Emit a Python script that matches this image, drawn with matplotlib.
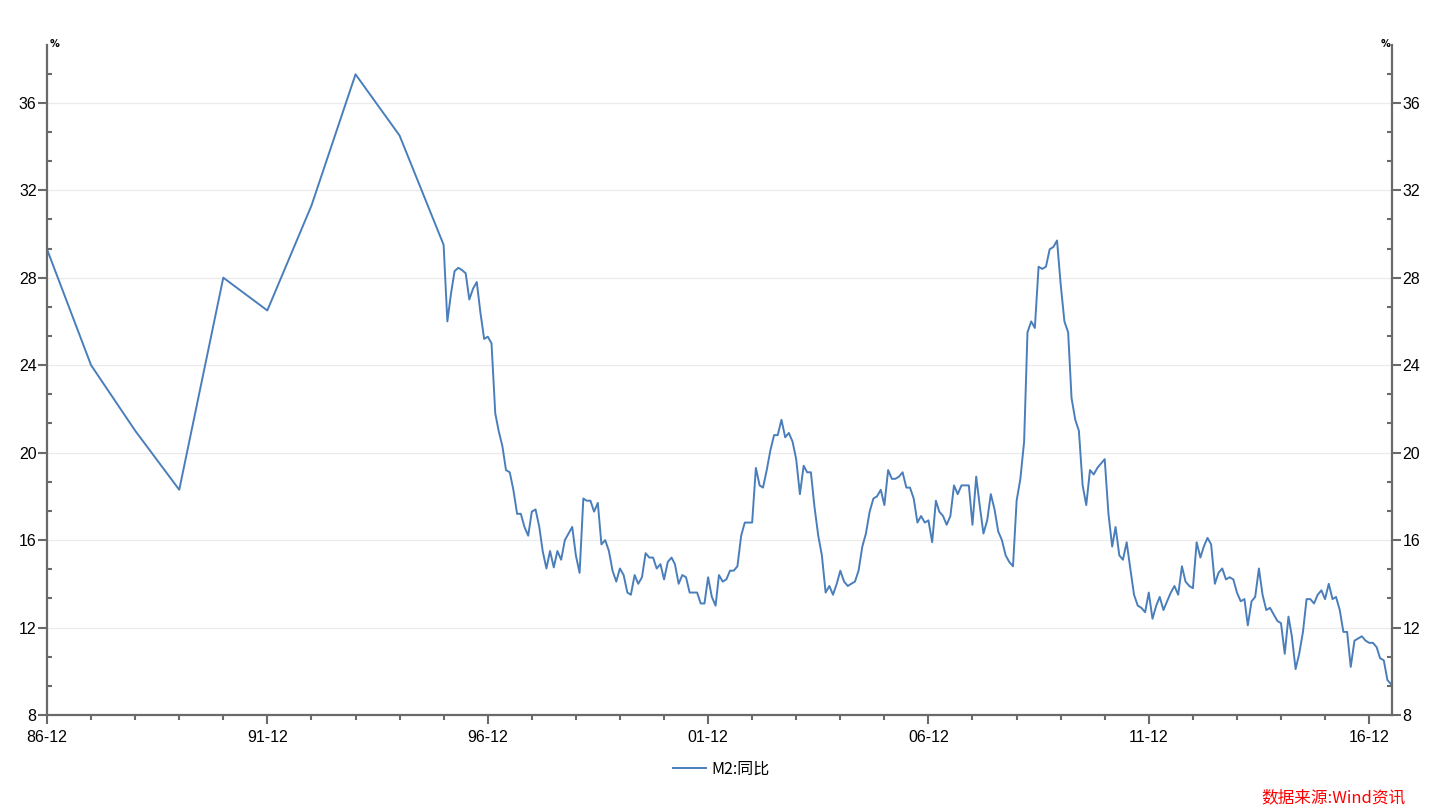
import datetime as dt
import matplotlib
matplotlib.use("Agg")
import matplotlib.pyplot as plt
import matplotlib.dates as mdates
from matplotlib.ticker import MultipleLocator, FixedLocator

# M2 yoy (%), annual points 1986-1995 then monthly from 1996-01
annual_years = list(range(1986, 1996))
annual_vals = [29.3, 24.0, 21.0, 18.3, 28.0, 26.5, 31.3, 37.3, 34.5, 29.5]

monthly_vals = {
    1996: [26.0, 27.3, 28.3, 28.45, 28.35, 28.2, 27.0, 27.5, 27.8, 26.4, 25.2, 25.3],
    1997: [25.0, 21.8, 21.0, 20.3, 19.2, 19.1, 18.3, 17.2, 17.2, 16.6, 16.2, 17.3],
    1998: [17.4, 16.6, 15.5, 14.7, 15.5, 14.75, 15.5, 15.1, 16.0, 16.3, 16.6, 15.3],
    1999: [14.5, 17.9, 17.8, 17.8, 17.3, 17.7, 15.8, 16.0, 15.5, 14.6, 14.1, 14.7],
    2000: [14.4, 13.6, 13.5, 14.4, 14.0, 14.3, 15.4, 15.2, 15.2, 14.7, 14.9, 14.2],
    2001: [15.0, 15.2, 14.9, 14.0, 14.4, 14.3, 13.6, 13.6, 13.6, 13.1, 13.1, 14.3],
    2002: [13.4, 13.0, 14.4, 14.1, 14.2, 14.6, 14.6, 14.8, 16.2, 16.8, 16.8, 16.8],
    2003: [19.3, 18.5, 18.4, 19.2, 20.1, 20.8, 20.8, 21.5, 20.7, 20.9, 20.5, 19.7],
    2004: [18.1, 19.4, 19.1, 19.1, 17.5, 16.2, 15.3, 13.6, 13.9, 13.5, 14.0, 14.6],
    2005: [14.1, 13.9, 14.0, 14.1, 14.6, 15.7, 16.3, 17.3, 17.9, 18.0, 18.3, 17.6],
    2006: [19.2, 18.8, 18.8, 18.9, 19.1, 18.4, 18.4, 17.9, 16.8, 17.1, 16.8, 16.9],
    2007: [15.9, 17.8, 17.3, 17.1, 16.7, 17.1, 18.5, 18.1, 18.5, 18.5, 18.5, 16.7],
    2008: [18.9, 17.5, 16.3, 16.9, 18.1, 17.4, 16.4, 16.0, 15.3, 15.0, 14.8, 17.8],
    2009: [18.8, 20.5, 25.5, 26.0, 25.7, 28.5, 28.4, 28.5, 29.3, 29.4, 29.7, 27.7],
    2010: [26.0, 25.5, 22.5, 21.5, 21.0, 18.5, 17.6, 19.2, 19.0, 19.3, 19.5, 19.7],
    2011: [17.2, 15.7, 16.6, 15.3, 15.1, 15.9, 14.7, 13.5, 13.0, 12.9, 12.7, 13.6],
    2012: [12.4, 13.0, 13.4, 12.8, 13.2, 13.6, 13.9, 13.5, 14.8, 14.1, 13.9, 13.8],
    2013: [15.9, 15.2, 15.7, 16.1, 15.8, 14.0, 14.5, 14.7, 14.2, 14.3, 14.2, 13.6],
    2014: [13.2, 13.3, 12.1, 13.2, 13.4, 14.7, 13.5, 12.8, 12.9, 12.6, 12.3, 12.2],
    2015: [10.8, 12.5, 11.6, 10.1, 10.8, 11.8, 13.3, 13.3, 13.1, 13.5, 13.7, 13.3],
    2016: [14.0, 13.3, 13.4, 12.8, 11.8, 11.8, 10.2, 11.4, 11.5, 11.6, 11.4, 11.3],
    2017: [11.3, 11.1, 10.6, 10.5, 9.6, 9.4],
}

tick_years = [1986, 1991, 1996, 2001, 2006, 2011, 2016]
y_ticks = [8, 12, 16, 20, 24, 28, 32, 36]
series_name = "M2:同比"
source_text = "数据来源:Wind资讯"

dates = [dt.datetime(y, 12, 1) for y in annual_years]
vals = list(annual_vals)
for y, row in monthly_vals.items():
    for m, v in enumerate(row, start=1):
        dates.append(dt.datetime(y, m, 1))
        vals.append(v)

num_font = ["Liberation Sans", "DejaVu Sans"]
num_size = 11.5
cjk_font = ["Noto Sans CJK SC", "DejaVu Sans"]
axis_grey = "#6a6a6a"

W, H = 1441, 811
fig = plt.figure(figsize=(W / 100, H / 100), dpi=100)
ax = fig.add_axes([47 / W, (H - 715) / H, (1392 - 47) / W, (715 - 45) / H])

line, = ax.plot(dates, vals, color="#4a7ebb", lw=1.4, label=series_name)

ax.set_ylim(8, 38.64)
ax.set_xlim(dt.datetime(1986, 12, 1), dt.datetime(2017, 6, 8))

ax.yaxis.set_major_locator(FixedLocator(y_ticks))
ax.yaxis.set_minor_locator(MultipleLocator(4 / 3))
ax.xaxis.set_major_locator(FixedLocator(mdates.date2num([dt.datetime(y, 12, 1) for y in tick_years])))
ax.xaxis.set_minor_locator(FixedLocator(mdates.date2num([dt.datetime(y, 12, 1) for y in range(1986, 2017)])))
ax.xaxis.set_major_formatter(mdates.DateFormatter("%y-%m"))

ax.grid(axis="y", which="major", color="#ebebeb", lw=0.9)
ax.set_axisbelow(True)

for s in ["left", "right", "bottom"]:
    ax.spines[s].set_color(axis_grey)
    ax.spines[s].set_linewidth(1.6)
ax.spines["top"].set_visible(False)

ax.tick_params(axis="both", which="both", color=axis_grey, width=1.5, labelcolor="black")
ax.tick_params(axis="y", which="major", direction="out", length=6.5, pad=1, left=True, right=True,
               labelleft=True, labelright=True)
ax.tick_params(axis="y", which="minor", direction="in", length=3.5, left=True, right=True)
ax.tick_params(axis="x", which="major", direction="out", length=6.5, pad=4)
ax.tick_params(axis="x", which="minor", direction="out", length=3.5)

fig.canvas.draw()
for t in ax.xaxis.get_major_ticks() + ax.yaxis.get_major_ticks():
    for lab in (t.label1, t.label2):
        lab.set_fontfamily(num_font)
        lab.set_fontsize(num_size)

fig.text(50 / W, 1 - 44 / H, "%", fontsize=7, fontweight="bold", ha="left", va="center", family="DejaVu Sans")
fig.text(1390 / W, 1 - 44 / H, "%", fontsize=7, fontweight="bold", ha="right", va="center", family="DejaVu Sans")

leg = fig.legend(handles=[line], loc="center", bbox_to_anchor=(721 / W, 1 - 769 / H),
                 frameon=False, prop={"family": cjk_font, "size": 11.5},
                 handlelength=2.1, handletextpad=0.3)

fig.text(1405 / W, 1 - 798 / H, source_text, color="#ff0000", fontsize=12, style="italic",
         ha="right", va="center", family=cjk_font)

fig.savefig("out.png", dpi=100)
